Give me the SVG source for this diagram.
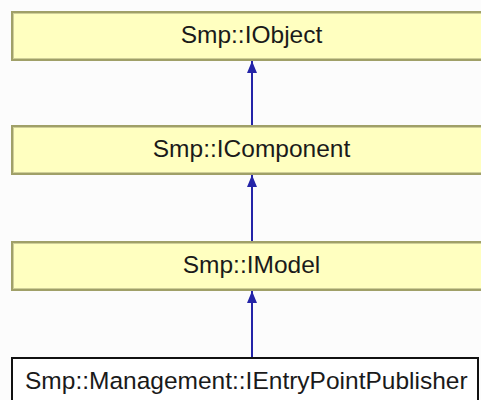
<svg xmlns="http://www.w3.org/2000/svg" width="481" height="400" viewBox="0 0 481 400">
  <style>
    .label { font-family: "Liberation Sans", Arial, sans-serif; font-size: 24.5px; fill: #1a1a1a; }
    .base { fill: #ffffc0; stroke: #a0a068; stroke-width: 2; }
    .base-inner { fill: none; stroke: #cfcf98; stroke-width: 1; }
    .current { fill: #ffffff; stroke: #111111; stroke-width: 2; }
    .edge { stroke: #2424a8; stroke-width: 2; fill: none; }
  </style>
  <defs>
    <!-- filled triangular head, drawn along the x axis so orient="auto" points it along the line -->
    <marker id="arrow" viewBox="0 0 12 10" refX="12" refY="5" markerWidth="12" markerHeight="10" markerUnits="userSpaceOnUse" orient="auto">
      <path d="M12 5 L0 0 L0 10 Z" fill="#2424a8"/>
    </marker>
  </defs>
  <rect width="481" height="400" fill="#fcfcfc"/>

  <g id="node-iobject">
    <rect class="base" x="12" y="12" width="481" height="48"/>
    <rect class="base-inner" x="13.5" y="13.5" width="478" height="45"/>
    <text class="label" x="251.5" y="42.5" text-anchor="middle">Smp::IObject</text>
  </g>

  <g id="node-icomponent">
    <rect class="base" x="12" y="126" width="481" height="48"/>
    <rect class="base-inner" x="13.5" y="127.5" width="478" height="45"/>
    <text class="label" x="251.5" y="156.5" text-anchor="middle">Smp::IComponent</text>
  </g>

  <g id="node-imodel">
    <rect class="base" x="12" y="242" width="481" height="48"/>
    <rect class="base-inner" x="13.5" y="243.5" width="478" height="45"/>
    <text class="label" x="251.5" y="272.5" text-anchor="middle">Smp::IModel</text>
  </g>

  <g id="node-ientrypointpublisher">
    <rect class="current" x="12" y="358" width="466" height="60"/>
    <text class="label" x="25" y="388.5">Smp::Management::IEntryPointPublisher</text>
  </g>

  <g id="connectors">
    <line class="edge" x1="252" y1="357" x2="252" y2="291" marker-end="url(#arrow)"/>
    <line class="edge" x1="252" y1="125" x2="252" y2="61" marker-end="url(#arrow)"/>
    <line class="edge" x1="252" y1="241" x2="252" y2="175" marker-end="url(#arrow)"/>
  </g>
</svg>
